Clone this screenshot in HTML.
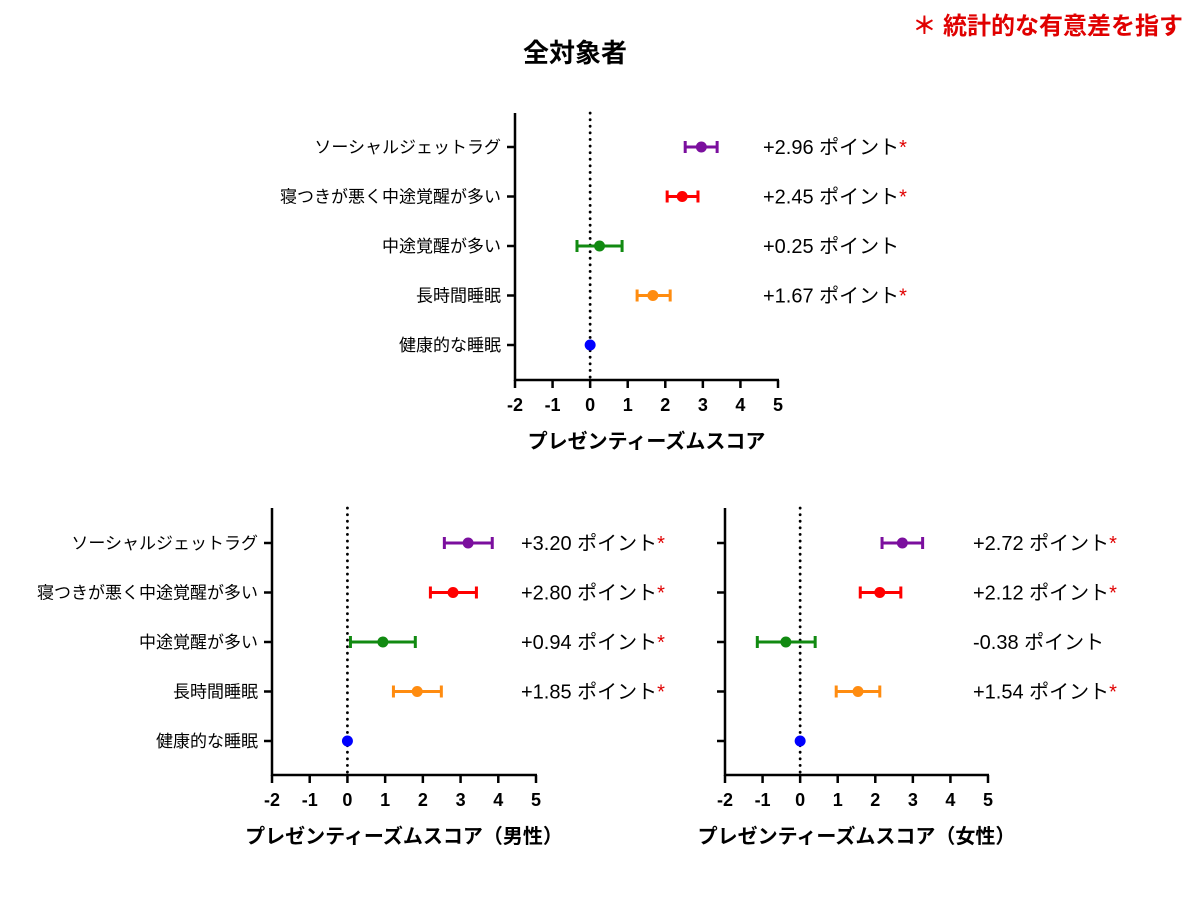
<!DOCTYPE html>
<html><head><meta charset="utf-8"><style>
body{margin:0;background:#fff;}
svg text{font-family:"Liberation Sans","Noto Sans CJK JP",sans-serif;}
</style></head><body>
<svg id="c" width="1200" height="900" viewBox="0 0 1200 900">
<text x="1183" y="34" text-anchor="end" font-size="24" font-weight="bold" fill="#e00000">＊ 統計的な有意差を指す</text>
<text x="575" y="62" text-anchor="middle" font-size="26" font-weight="bold">全対象者</text>
</svg>
<script>
const categories=["ソーシャルジェットラグ","寝つきが悪く中途覚醒が多い","中途覚醒が多い","長時間睡眠","健康的な睡眠"];
const colors=["#7b0f9e","#ff0000","#118a11","#ff8c10","#0000ff"];
const tickLabels=["-2","-1","0","1","2","3","4","5"];
const allEst=[2.96,2.45,0.25,1.67,0];
const allLo=[2.53,2.05,-0.35,1.25,0];
const allHi=[3.38,2.87,0.85,2.13,0];
const allSig=[true,true,false,true,false];
const maleEst=[3.20,2.80,0.94,1.85,0];
const maleLo=[2.57,2.2,0.08,1.22,0];
const maleHi=[3.84,3.42,1.8,2.49,0];
const maleSig=[true,true,true,true,false];
const femEst=[2.72,2.12,-0.38,1.54,0];
const femLo=[2.18,1.6,-1.14,0.96,0];
const femHi=[3.26,2.68,0.4,2.12,0];
const femSig=[true,true,false,true,false];

const svg=document.getElementById('c');
const NS="http://www.w3.org/2000/svg";
function mk(tag,attrs,parent){const e=document.createElementNS(NS,tag);for(const k in attrs)e.setAttribute(k,attrs[k]);(parent||svg).appendChild(e);return e;}

function panel(id,x0,x1,yTop,yBot,rowY0,rowStep,est,lo,hi,sig,showLabels,xTitle,annX){
  const g=mk('g',{});
  
  
  const xs=v=>x0+(v+2)/7*(x1-x0);
  const ys=i=>rowY0+i*rowStep;
  const ya=mk('line',{x1:x0,y1:yTop,x2:x0,y2:yBot+1,stroke:'#000','stroke-width':2.5},g);
  
  const xa=mk('line',{x1:x0-1,y1:yBot,x2:x1+1,y2:yBot,stroke:'#000','stroke-width':2.5},g);
  
  const zl=mk('line',{x1:xs(0),y1:yTop,x2:xs(0),y2:yBot,stroke:'#000','stroke-width':2.8,'stroke-dasharray':'0.1 6.5','stroke-linecap':'round'},g);
  
  tickLabels.forEach((t,k)=>{
    const v=+t;
    mk('line',{x1:xs(v),y1:yBot,x2:xs(v),y2:yBot+8,stroke:'#000','stroke-width':2.5},g);
    const tx=mk('text',{x:xs(v),y:yBot+31,'text-anchor':'middle','font-size':18,'font-weight':'bold'},g);
    tx.textContent=t;
    
  });
  const xt=mk('text',{x:(x0+x1)/2,y:yBot+68,'text-anchor':'middle','font-size':20,'font-weight':'bold'},g);
  xt.textContent=xTitle;
  
  categories.forEach((c,i)=>{
    const y=ys(i);
    mk('line',{x1:x0-8,y1:y,x2:x0,y2:y,stroke:'#000','stroke-width':2.5},g);
    if(showLabels){
      const l=mk('text',{x:x0-14,y:y+6,'text-anchor':'end','font-size':17},g);
      l.textContent=c;
      
    }
    const col=colors[i];
    if(hi[i]>lo[i]){
      const eb=mk('path',{d:`M${xs(lo[i])},${y}H${xs(hi[i])}M${xs(lo[i])},${y-6}V${y+6}M${xs(hi[i])},${y-6}V${y+6}`,stroke:col,'stroke-width':3,fill:'none'},g);
      
    }
    const p=mk('circle',{cx:xs(est[i]),cy:y,r:5.5,fill:col},g);
    
    if(i<4){
      const a=mk('text',{x:annX,y:y+7,'font-size':20},g);
      const v=est[i];
      a.textContent=(v>=0?'+':'')+v.toFixed(2)+' ポイント';
      
      if(sig[i]){const s=mk('tspan',{fill:'#e00000'},a);s.textContent='*';}
    }
  });
}
panel('panel-all',515,778,113,380,147,49.5,allEst,allLo,allHi,allSig,true,'プレゼンティーズムスコア',763);
panel('panel-male',272,536,508,775,543,49.5,maleEst,maleLo,maleHi,maleSig,true,'プレゼンティーズムスコア（男性）',521);
panel('panel-female',725,988,508,775,543,49.5,femEst,femLo,femHi,femSig,false,'プレゼンティーズムスコア（女性）',973);
</script>
</body></html>
